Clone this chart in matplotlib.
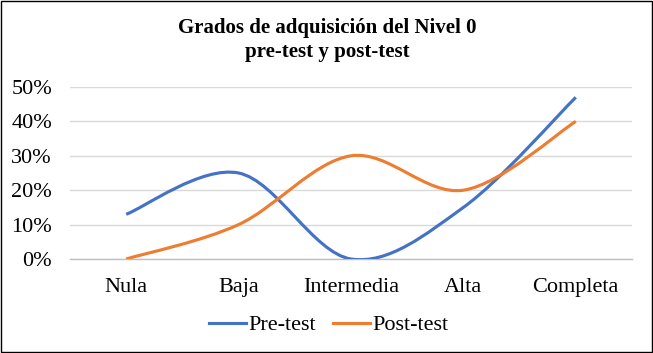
import numpy as np
import matplotlib
matplotlib.use("Agg")
import matplotlib.pyplot as plt
from matplotlib.path import Path
from matplotlib.patches import PathPatch, Rectangle
from matplotlib.lines import Line2D

categories = ["Nula", "Baja", "Intermedia", "Alta", "Completa"]
pre_test = [0.13, 0.25, 0.00, 0.15, 0.47]
post_test = [0.00, 0.10, 0.30, 0.20, 0.40]
yticks = [0.0, 0.1, 0.2, 0.3, 0.4, 0.5]
ytick_labels = ["0%", "10%", "20%", "30%", "40%", "50%"]

title = "Grados de adquisición del Nivel 0\npre-test y post-test"
blue = "#4472C4"
orange = "#ED7D31"

plt.rcParams["font.family"] = ["Liberation Serif", "DejaVu Serif"]

fig = plt.figure(figsize=(6.53, 3.53), dpi=100)
ax = fig.add_axes([70/653, (353-259)/353, (632-70)/653, (259-87)/353])


def smooth_path(xs, ys):
    pts = np.column_stack([xs, ys]).astype(float)
    n = len(pts)
    verts = [pts[0]]
    codes = [Path.MOVETO]
    for i in range(n - 1):
        p0 = pts[i - 1] if i > 0 else pts[i]
        p1 = pts[i]
        p2 = pts[i + 1]
        p3 = pts[i + 2] if i + 2 < n else pts[i + 1]
        c1 = p1 + (p2 - p0) / 6.0
        c2 = p2 - (p3 - p1) / 6.0
        verts += [c1, c2, p2]
        codes += [Path.CURVE4] * 3
    return Path(verts, codes)


x = np.arange(len(categories))
for vals, col, lab in [(pre_test, blue, "Pre-test"), (post_test, orange, "Post-test")]:
    patch = PathPatch(smooth_path(x, vals), facecolor="none", edgecolor=col,
                      lw=2.25, capstyle="butt", joinstyle="round", zorder=3)
    ax.add_patch(patch)

ax.set_xlim(-0.5, len(categories) - 0.5)
ax.set_ylim(0, 0.5)
ax.set_yticks(yticks)
ax.set_yticklabels(ytick_labels, fontsize=16)
ax.set_xticks(x)
ax.set_xticklabels(categories, fontsize=16)
ax.tick_params(axis="both", length=0)
ax.tick_params(axis="y", pad=13)
ax.tick_params(axis="x", pad=13.5)
ax.grid(axis="y", color="#D9D9D9", lw=1)
ax.set_axisbelow(True)
for s in ["top", "right", "left"]:
    ax.spines[s].set_visible(False)
ax.spines["bottom"].set_color("#BFBFBF")
ax.spines["bottom"].set_linewidth(1)

fig.text(327/653, 1 - 40/353, title, ha="center", va="center",
         fontsize=15, fontweight="bold", linespacing=1.3)

handles = [Line2D([], [], color=blue, lw=2.25), Line2D([], [], color=orange, lw=2.25)]
fig.legend(handles, ["Pre-test", "Post-test"], loc="center",
           bbox_to_anchor=(329/653, 1 - 325/353), ncol=2, frameon=False,
           fontsize=16, handlelength=1.67, handletextpad=0.1, columnspacing=0.77)

fig.add_artist(Rectangle((1/653, 1/353), 1 - 2/653, 1 - 2/353, transform=fig.transFigure,
                         facecolor="none", edgecolor="black", lw=1))

fig.savefig("out.png", dpi=100)
